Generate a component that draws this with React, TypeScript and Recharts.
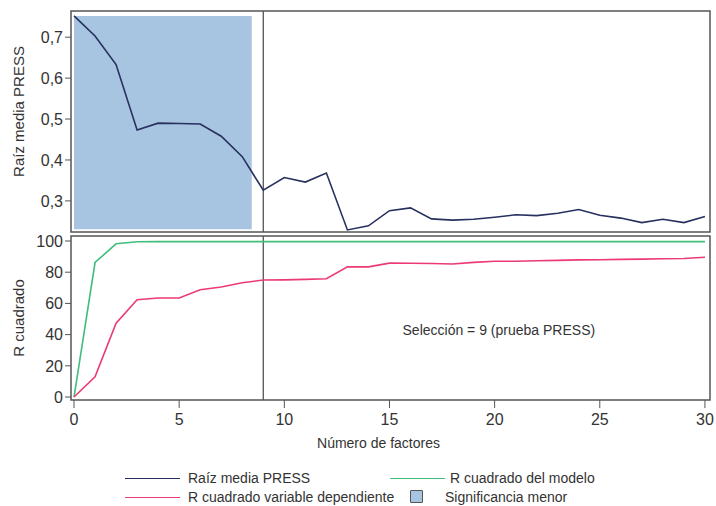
import React from "react";
import {
  LineChart,
  Line,
  XAxis,
  YAxis,
  ReferenceArea,
  ReferenceLine,
  ReferenceDot,
} from "recharts";

const factores = [
  0, 1, 2, 3, 4, 5, 6, 7, 8, 9, 10, 11, 12, 13, 14, 15, 16, 17, 18, 19, 20,
  21, 22, 23, 24, 25, 26, 27, 28, 29, 30,
];

const raizPress = [
  0.752, 0.703, 0.633, 0.473, 0.49, 0.489, 0.488, 0.458, 0.408, 0.326, 0.357,
  0.346, 0.368, 0.229, 0.239, 0.276, 0.283, 0.256, 0.253, 0.255, 0.26, 0.266,
  0.264, 0.27, 0.279, 0.265, 0.258, 0.247, 0.255, 0.247, 0.262,
];

const r2Modelo = [
  0, 86.2, 98.2, 99.5, 99.6, 99.6, 99.6, 99.6, 99.6, 99.6, 99.6, 99.6, 99.6,
  99.6, 99.6, 99.6, 99.6, 99.6, 99.6, 99.6, 99.6, 99.6, 99.6, 99.6, 99.6, 99.6,
  99.6, 99.6, 99.6, 99.6, 99.6,
];

const r2Dependiente = [
  0, 12.9, 47.3, 62.4, 63.5, 63.5, 68.8, 70.5, 73.2, 75.0, 75.1, 75.4, 75.8,
  83.4, 83.4, 85.8, 85.7, 85.6, 85.3, 86.3, 87.0, 87.0, 87.3, 87.6, 87.9, 88.0,
  88.2, 88.4, 88.6, 88.8, 89.6,
];

const pressTicks = [0.3, 0.4, 0.5, 0.6, 0.7];
const r2Ticks = [0, 20, 40, 60, 80, 100];
const xTicks = [0, 5, 10, 15, 20, 25, 30];

const seleccion = 9;
const zonaMenor = { x1: 0, x2: 8.45, y1: 0.231, y2: 0.752 };

const COLORS = {
  press: "#27305e",
  modelo: "#41bd7c",
  dependiente: "#ec3a72",
  zona: "#a7c4e1",
  frame: "#555555",
  text: "#333333",
};

const FONT = '"Liberation Sans", Arial, sans-serif';

const data = factores.map((f, i) => ({
  f,
  press: raizPress[i],
  modelo: r2Modelo[i],
  dependiente: r2Dependiente[i],
}));

const X_DOMAIN: [number, number] = [-0.143, 30.24];
const PRESS_DOMAIN: [number, number] = [0.224, 0.764];
const R2_DOMAIN: [number, number] = [-1.9, 103.2];
const tickStyle = { fontSize: 16, fill: COLORS.text, fontFamily: FONT };
const titleStyle = { fontSize: 15, fill: COLORS.text, fontFamily: FONT, textAnchor: "middle" as const };
const fmtComma = (v: number) => v.toFixed(1).replace(".", ",");

function LegendLine({ color, left, top }: { color: string; left: number; top: number }) {
  return (
    <div
      style={{
        position: "absolute",
        left,
        top,
        width: 55,
        height: 0,
        borderTop: `1.5px solid ${color}`,
      }}
    />
  );
}

function LegendText({ text, left, top }: { text: string; left: number; top: number }) {
  return (
    <div style={{ position: "absolute", left, top: top - 9, fontSize: 14, lineHeight: "18px", whiteSpace: "nowrap" }}>
      {text}
    </div>
  );
}

export default function App() {
  return (
    <div
      style={{
        position: "absolute",
        left: 0,
        top: 0,
        width: 716,
        height: 506,
        background: "#fff",
        fontFamily: FONT,
        color: COLORS.text,
      }}
    >
      <div style={{ position: "absolute", left: 0, top: 0 }}>
        <LineChart
          width={716}
          height={236}
          data={data}
          margin={{ top: 11, right: 6, bottom: 4, left: 0 }}
        >
          <XAxis dataKey="f" type="number" domain={X_DOMAIN} hide allowDataOverflow />
          <YAxis
            type="number"
            domain={PRESS_DOMAIN}
            allowDataOverflow
            ticks={pressTicks}
            tickFormatter={fmtComma}
            width={71}
            tick={tickStyle}
            tickSize={6}
            axisLine={false}
            tickLine={{ stroke: COLORS.frame }}
            label={{
              value: "Raíz media PRESS",
              angle: -90,
              position: "insideLeft",
              offset: 19,
              dy: -10,
              style: titleStyle,
            }}
          />
          <ReferenceArea
            x1={zonaMenor.x1}
            x2={zonaMenor.x2}
            y1={zonaMenor.y1}
            y2={zonaMenor.y2}
            fill={COLORS.zona}
            fillOpacity={1}
            stroke="none"
          />
          <ReferenceLine x={seleccion} stroke={COLORS.frame} strokeWidth={1.3} />
          <Line
            dataKey="press"
            type="linear"
            stroke={COLORS.press}
            strokeWidth={1.6}
            dot={false}
            isAnimationActive={false}
          />
          <ReferenceArea
            x1={X_DOMAIN[0]}
            x2={X_DOMAIN[1]}
            y1={PRESS_DOMAIN[0]}
            y2={PRESS_DOMAIN[1]}
            fill="none"
            fillOpacity={0}
            stroke={COLORS.frame}
            strokeWidth={1.5}
          />
        </LineChart>
      </div>
      <div style={{ position: "absolute", left: 0, top: 230 }}>
        <LineChart
          width={716}
          height={230}
          data={data}
          margin={{ top: 6, right: 6, bottom: 0, left: 0 }}
        >
          <XAxis
            dataKey="f"
            type="number"
            domain={X_DOMAIN}
            allowDataOverflow
            ticks={xTicks}
            height={60}
            tick={tickStyle}
            tickSize={8}
            tickMargin={6}
            axisLine={false}
            tickLine={{ stroke: COLORS.frame }}
            label={{
              value: "Número de factores",
              position: "insideBottom",
              offset: 12,
              dx: -12,
              style: { fontSize: 14, fill: COLORS.text, fontFamily: FONT },
            }}
          />
          <YAxis
            type="number"
            domain={R2_DOMAIN}
            allowDataOverflow
            ticks={r2Ticks}
            width={71}
            tick={tickStyle}
            tickSize={6}
            axisLine={false}
            tickLine={{ stroke: COLORS.frame }}
            label={{
              value: "R cuadrado",
              angle: -90,
              position: "insideLeft",
              offset: 19,
              style: titleStyle,
            }}
          />
          <ReferenceLine x={seleccion} stroke={COLORS.frame} strokeWidth={1.3} />
          <Line
            dataKey="modelo"
            type="linear"
            stroke={COLORS.modelo}
            strokeWidth={1.6}
            dot={false}
            isAnimationActive={false}
          />
          <Line
            dataKey="dependiente"
            type="linear"
            stroke={COLORS.dependiente}
            strokeWidth={1.6}
            dot={false}
            isAnimationActive={false}
          />
          <ReferenceDot
            x={20.2}
            y={43}
            r={0}
            fill="none"
            stroke="none"
            label={{
              value: `Selección = ${seleccion} (prueba PRESS)`,
              position: "center",
              style: { fontSize: 14, fill: COLORS.text, fontFamily: FONT },
            }}
          />
          <ReferenceArea
            x1={X_DOMAIN[0]}
            x2={X_DOMAIN[1]}
            y1={R2_DOMAIN[0]}
            y2={R2_DOMAIN[1]}
            fill="none"
            fillOpacity={0}
            stroke={COLORS.frame}
            strokeWidth={1.5}
          />
        </LineChart>
      </div>
      <LegendLine color={COLORS.press} left={125} top={478} />
      <LegendText text="Raíz media PRESS" left={188} top={478} />
      <LegendLine color={COLORS.modelo} left={390} top={478} />
      <LegendText text="R cuadrado del modelo" left={450} top={478} />
      <LegendLine color={COLORS.dependiente} left={125} top={497} />
      <LegendText text="R cuadrado variable dependiente" left={188} top={497} />
      <div
        style={{
          position: "absolute",
          left: 410,
          top: 490,
          width: 11,
          height: 11,
          background: COLORS.zona,
          border: `1.5px solid ${COLORS.frame}`,
          borderRadius: 1,
        }}
      />
      <LegendText text="Significancia menor" left={445} top={497} />
    </div>
  );
}
